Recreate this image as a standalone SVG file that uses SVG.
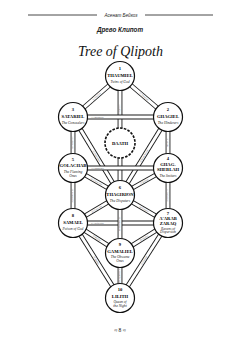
<svg xmlns="http://www.w3.org/2000/svg" xmlns:xlink="http://www.w3.org/1999/xlink" width="242" height="344" viewBox="0 0 242 344">
<style>
.o{fill:none;stroke:#1a1a1a;stroke-width:4.8}
.i{fill:none;stroke:#fff;stroke-width:3}
.pl{font-family:"Liberation Serif",serif;font-size:2.3px;fill:#666;font-style:italic}
.c{fill:#fff;stroke:#111;stroke-width:1.2}
.dc{fill:#fff;stroke:#111;stroke-width:1.6;stroke-dasharray:2.6 1.3}
.n{font-family:"Liberation Serif",serif;font-weight:bold;font-size:4.6px;fill:#000;text-anchor:middle}
.s{font-family:"Liberation Serif",serif;font-style:italic;font-size:3.6px;fill:#222;text-anchor:middle}
.h{font-family:"Liberation Sans",sans-serif;font-style:italic;text-anchor:middle;fill:#222}
</style>
<defs>
<path id="p11" d="M120,76 L168,117"/>
<path id="p12" d="M73,117 L120,76"/>
<path id="p13" d="M120,76 L120,195"/>
<path id="p14" d="M73,117 L168,117"/>
<path id="p15" d="M120,195 L168,117"/>
<path id="p16" d="M168,117 L168,168"/>
<path id="p17" d="M73,117 L120,195"/>
<path id="p18" d="M73,117 L73,168"/>
<path id="p19" d="M73,168 L168,168"/>
<path id="p20" d="M120,195 L168,168"/>
<path id="p21" d="M168,168 L168,223"/>
<path id="p22" d="M73,168 L120,195"/>
<path id="p23" d="M73,168 L73,223"/>
<path id="p24" d="M120,195 L168,223"/>
<path id="p25" d="M120,195 L120,253"/>
<path id="p26" d="M73,223 L120,195"/>
<path id="p27" d="M73,223 L168,223"/>
<path id="p28" d="M120,253 L168,223"/>
<path id="p29" d="M120,298 L168,223"/>
<path id="p30" d="M73,223 L120,253"/>
<path id="p31" d="M73,223 L120,298"/>
<path id="p32" d="M120,253 L120,298"/>
</defs>

<g id="header">
<line x1="28" y1="15" x2="97" y2="15" stroke="#333" stroke-width="0.9"/>
<line x1="145" y1="15" x2="213" y2="15" stroke="#333" stroke-width="0.9"/>
<text class="h" x="121" y="16.6" font-size="4.6">Асенат Бейкоз</text>
<text class="h" x="120" y="32" font-size="6.3" font-weight="bold">Древо Клипот</text>
<text x="120.5" y="56" font-family="Liberation Serif,serif" font-style="italic" font-size="14.5" text-anchor="middle" textLength="85" lengthAdjust="spacingAndGlyphs" fill="#111">Tree of Qlipoth</text>
</g>

<g id="connectors">
<use xlink:href="#p11" class="o"/><use xlink:href="#p12" class="o"/><use xlink:href="#p13" class="o"/>
<use xlink:href="#p15" class="o"/><use xlink:href="#p16" class="o"/><use xlink:href="#p17" class="o"/><use xlink:href="#p18" class="o"/>
<use xlink:href="#p20" class="o"/><use xlink:href="#p21" class="o"/><use xlink:href="#p22" class="o"/><use xlink:href="#p23" class="o"/>
<use xlink:href="#p24" class="o"/><use xlink:href="#p26" class="o"/><use xlink:href="#p28" class="o"/><use xlink:href="#p29" class="o"/>
<use xlink:href="#p30" class="o"/><use xlink:href="#p31" class="o"/><use xlink:href="#p32" class="o"/>
<use xlink:href="#p11" class="i"/><use xlink:href="#p12" class="i"/><use xlink:href="#p13" class="i"/>
<use xlink:href="#p15" class="i"/><use xlink:href="#p16" class="i"/><use xlink:href="#p17" class="i"/><use xlink:href="#p18" class="i"/>
<use xlink:href="#p20" class="i"/><use xlink:href="#p21" class="i"/><use xlink:href="#p22" class="i"/><use xlink:href="#p23" class="i"/>
<use xlink:href="#p24" class="i"/><use xlink:href="#p26" class="i"/><use xlink:href="#p28" class="i"/><use xlink:href="#p29" class="i"/>
<use xlink:href="#p30" class="i"/><use xlink:href="#p31" class="i"/><use xlink:href="#p32" class="i"/>
<use xlink:href="#p14" class="o"/><use xlink:href="#p14" class="i"/>
<use xlink:href="#p19" class="o"/><use xlink:href="#p19" class="i"/>
<use xlink:href="#p27" class="o"/><use xlink:href="#p27" class="i"/>
<use xlink:href="#p25" class="o"/><use xlink:href="#p25" class="i"/>
<g class="pl">
<text dy="0.8" text-anchor="middle"><textPath xlink:href="#p11" startOffset="50%">11 A'ano'nin</textPath></text>
<text dy="0.8" text-anchor="middle"><textPath xlink:href="#p12" startOffset="50%">12 Tzuflifu</textPath></text>
<text dy="0.8" text-anchor="middle"><textPath xlink:href="#p13" startOffset="28%">13 Ghogiel</textPath></text>
<text dy="0.8"><textPath xlink:href="#p14" startOffset="18">14 Dagdagiel</textPath></text>
<text dy="0.8" text-anchor="middle"><textPath xlink:href="#p15" startOffset="50%">15 Hemethterith</textPath></text>
<text dy="0.8" text-anchor="middle"><textPath xlink:href="#p16" startOffset="50%">16 Uriens</textPath></text>
<text dy="0.8" text-anchor="middle"><textPath xlink:href="#p17" startOffset="50%">17 Zamradiel</textPath></text>
<text dy="0.8" text-anchor="middle"><textPath xlink:href="#p18" startOffset="50%">18 Characith</textPath></text>
<text dy="0.8"><textPath xlink:href="#p19" startOffset="18">19 Temphioth</textPath></text>
<text dy="0.8" text-anchor="middle"><textPath xlink:href="#p20" startOffset="50%">20 Yamatu</textPath></text>
<text dy="0.8" text-anchor="middle"><textPath xlink:href="#p21" startOffset="50%">21 Kurgasiax</textPath></text>
<text dy="0.8" text-anchor="middle"><textPath xlink:href="#p22" startOffset="50%">22 Lafcursiax</textPath></text>
<text dy="0.8" text-anchor="middle"><textPath xlink:href="#p23" startOffset="50%">23 Malkunofat</textPath></text>
<text dy="0.8" text-anchor="middle"><textPath xlink:href="#p24" startOffset="50%">24 Niantiel</textPath></text>
<text dy="0.8" text-anchor="middle"><textPath xlink:href="#p25" startOffset="50%">25 Saksaksalim</textPath></text>
<text dy="0.8" text-anchor="middle"><textPath xlink:href="#p26" startOffset="50%">26 A'ano'nin</textPath></text>
<text dy="0.8"><textPath xlink:href="#p27" startOffset="18">27 Parfaxitas</textPath></text>
<text dy="0.8" text-anchor="middle"><textPath xlink:href="#p28" startOffset="50%">28 Shalicu</textPath></text>
<text dy="0.8" text-anchor="middle"><textPath xlink:href="#p29" startOffset="50%">29 Qulielfi</textPath></text>
<text dy="0.8" text-anchor="middle"><textPath xlink:href="#p30" startOffset="50%">30 Raflifu</textPath></text>
<text dy="0.8" text-anchor="middle"><textPath xlink:href="#p31" startOffset="50%">31 Shalicu</textPath></text>
<text dy="0.8" text-anchor="middle"><textPath xlink:href="#p32" startOffset="50%">32 Thantifaxath</textPath></text>
</g>
</g>

<g id="n1"><circle class="c" cx="120" cy="76" r="14.5"/>
<text class="n" x="120" y="70">1</text><text class="n" x="120" y="77">THAUMIEL</text><text class="s" x="120" y="83">Twins of God</text></g>
<g id="n2"><circle class="c" cx="168" cy="117" r="14.5"/>
<text class="n" x="168" y="111">2</text><text class="n" x="168" y="118">GHAGIEL</text><text class="s" x="168" y="124">The Hinderers</text></g>
<g id="n3"><circle class="c" cx="73" cy="117" r="14.5"/>
<text class="n" x="73" y="111">3</text><text class="n" x="73" y="118">SATARIEL</text><text class="s" x="73" y="124">The Concealers</text></g>
<g id="daath"><circle class="dc" cx="120" cy="143" r="15"/>
<text class="n" x="120" y="144.5">DAATH</text></g>
<g id="n4"><circle class="c" cx="168" cy="168" r="14.5"/>
<text class="n" x="168" y="160">4</text><text class="n" x="168" y="165.5">GHAG-</text><text class="n" x="168" y="171">SHEBLAH</text><text class="s" x="168" y="176.5">The Smiters</text></g>
<g id="n5"><circle class="c" cx="73" cy="168" r="14.5"/>
<text class="n" x="73" y="161">5</text><text class="n" x="73" y="167">GOLACHAB</text><text class="s" x="73" y="172.5">The Flaming</text><text class="s" x="73" y="177">Ones</text></g>
<g id="n6"><circle class="c" cx="120" cy="195" r="14.5"/>
<text class="n" x="120" y="189">6</text><text class="n" x="120" y="196">THAGIRION</text><text class="s" x="120" y="202">The Disputers</text></g>
<g id="n7"><circle class="c" cx="168" cy="223" r="14.5"/>
<text class="n" x="168" y="215">7</text><text class="n" x="168" y="220">A'ARAB</text><text class="n" x="168" y="225">ZARAQ</text><text class="s" x="168" y="229.5">Ravens of</text><text class="s" x="168" y="233">Dispersion</text></g>
<g id="n8"><circle class="c" cx="73" cy="223" r="14.5"/>
<text class="n" x="73" y="217">8</text><text class="n" x="73" y="224">SAMAEL</text><text class="s" x="73" y="230">Poison of God</text></g>
<g id="n9"><circle class="c" cx="120" cy="253" r="14.5"/>
<text class="n" x="120" y="246">9</text><text class="n" x="120" y="252.5">GAMALIEL</text><text class="s" x="120" y="258">The Obscene</text><text class="s" x="120" y="262">Ones</text></g>
<g id="n10"><circle class="c" cx="120" cy="298" r="14.5"/>
<text class="n" x="120" y="291">10</text><text class="n" x="120" y="297.5">LILITH</text><text class="s" x="120" y="303">Queen of</text><text class="s" x="120" y="307">the Night</text></g>

<text x="120" y="331.5" font-family="Liberation Serif,serif" font-size="5.5" text-anchor="middle" fill="#111">≈ 8 ≈</text>
</svg>
